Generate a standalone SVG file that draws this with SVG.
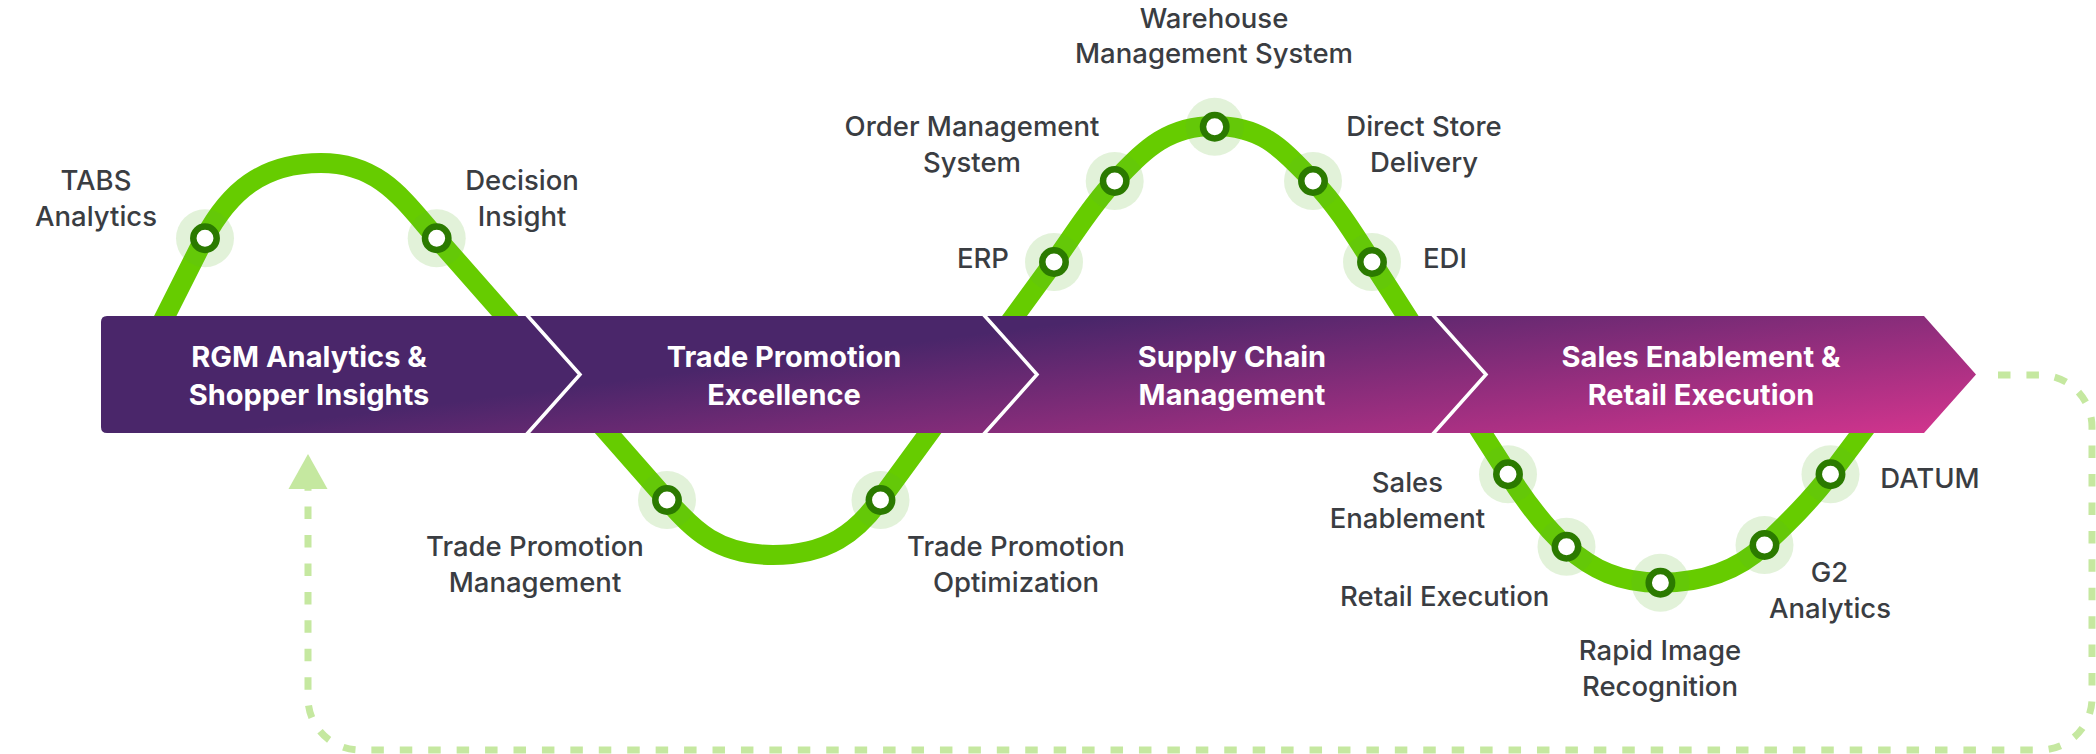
<svg xmlns="http://www.w3.org/2000/svg" width="2096" height="754" viewBox="0 0 2096 754">
<defs>
<linearGradient id="bannerGrad" gradientUnits="userSpaceOnUse" x1="1118" y1="316" x2="1147.7" y2="546.4">
<stop offset="0" stop-color="#4a266a"/>
<stop offset="1" stop-color="#d8358f"/>
</linearGradient>
<style>
.wave{fill:none;stroke:#66cc00;stroke-width:20;stroke-linejoin:round}
.halo{fill:#5cb82e;fill-opacity:0.18}
.ring{fill:#ffffff;stroke:#2b7a00;stroke-width:6.5}
.lbl{font-family:Inter,"Noto Sans","Liberation Sans",sans-serif;font-size:27.5px;font-weight:500;fill:#3a3d42;text-anchor:middle}
.stage{fill:url(#bannerGrad)}
.div{fill:none;stroke:#ffffff;stroke-width:3.5}
.stxt{font-family:Inter,"Noto Sans","Liberation Sans",sans-serif;font-size:29px;font-weight:700;fill:#ffffff;text-anchor:middle}
.loop{fill:none;stroke:#c5e8a0;stroke-width:7;stroke-dasharray:12.5 15.93}
</style>
</defs>
<rect width="2096" height="754" fill="#ffffff"/>
<g id="connectors">
<path id="wave" class="wave" d="M128,390 L204.5,238 C229,192 262,163 321,163 C380,163 403.6,200.4 436.6,238 L667,500 C693.4,530 718,555 773,555 C828,555 856.4,532.3 880,500 L1054,262 C1073.5,235.4 1091.6,204.6 1114.7,181 C1142.7,152.4 1164.7,126 1214.7,126 C1264.7,126 1285,152.4 1313,181 C1336.1,204.6 1354.2,234.2 1372,262 L1508,474 C1524.8,500.2 1543.3,526.2 1566.5,546.7 C1592.8,569.8 1620,582.7 1660,582.7 C1700,582.7 1737.1,571.2 1764.5,545 C1787.5,522.9 1811.3,499.9 1830.5,474.3 L1890,395"/>
<path id="loop" class="loop" d="M1998,375 H2040 A52,52 0 0 1 2092,427 V698 A52,52 0 0 1 2040,750 H360 A52,52 0 0 1 308,698 V489"/>
<polygon id="loop-arrow" points="308,454 288.5,489 327.5,489" fill="#c5e8a0"/>
</g>
<g id="stage-rgm">
<path class="stage" d="M101,322 Q101,316 107,316 L526,316 L580,374.5 L526,433 L107,433 Q101,433 101,427 Z"/>
<text class="stxt" x="309" y="366.5">RGM Analytics &amp;</text>
<text class="stxt" x="309" y="404.5">Shopper Insights</text>
</g>
<g id="stage-trade">
<path class="stage" d="M526,316 L983,316 L1037,374.5 L983,433 L526,433 L580,374.5 Z"/>
<polyline class="div" points="526,314 580,374.5 526,435"/>
<text class="stxt" x="784" y="366.5">Trade Promotion</text>
<text class="stxt" x="784" y="404.5">Excellence</text>
</g>
<g id="stage-supply">
<path class="stage" d="M983,316 L1432,316 L1486,374.5 L1432,433 L983,433 L1037,374.5 Z"/>
<polyline class="div" points="983,314 1037,374.5 983,435"/>
<text class="stxt" x="1232" y="366.5">Supply Chain</text>
<text class="stxt" x="1232" y="404.5">Management</text>
</g>
<g id="stage-sales">
<path class="stage" d="M1432,316 L1924,316 L1976,374.5 L1924,433 L1432,433 L1486,374.5 Z"/>
<polyline class="div" points="1432,314 1486,374.5 1432,435"/>
<text class="stxt" x="1701" y="366.5">Sales Enablement &amp;</text>
<text class="stxt" x="1701" y="404.5">Retail Execution</text>
</g>
<g id="node-tabs">
<circle class="halo" cx="205" cy="238.3" r="29"/>
<circle class="ring" cx="205" cy="238.3" r="11.7"/>
<text class="lbl" x="96" y="190">TABS</text>
<text class="lbl" x="96" y="225.5">Analytics</text>
</g>
<g id="node-decision">
<circle class="halo" cx="436.7" cy="238.3" r="29"/>
<circle class="ring" cx="436.7" cy="238.3" r="11.7"/>
<text class="lbl" x="522" y="190">Decision</text>
<text class="lbl" x="522" y="225.5">Insight</text>
</g>
<g id="node-tpm">
<circle class="halo" cx="667" cy="500" r="29"/>
<circle class="ring" cx="667" cy="500" r="11.7"/>
<text class="lbl" x="535" y="556">Trade Promotion</text>
<text class="lbl" x="535" y="592">Management</text>
</g>
<g id="node-tpo">
<circle class="halo" cx="880.5" cy="500" r="29"/>
<circle class="ring" cx="880.5" cy="500" r="11.7"/>
<text class="lbl" x="1016" y="556">Trade Promotion</text>
<text class="lbl" x="1016" y="592">Optimization</text>
</g>
<g id="node-erp">
<circle class="halo" cx="1054" cy="262" r="29"/>
<circle class="ring" cx="1054" cy="262" r="11.7"/>
<text class="lbl" x="983" y="267.7">ERP</text>
</g>
<g id="node-oms">
<circle class="halo" cx="1114.7" cy="181" r="29"/>
<circle class="ring" cx="1114.7" cy="181" r="11.7"/>
<text class="lbl" x="972" y="136">Order Management</text>
<text class="lbl" x="972" y="171.7">System</text>
</g>
<g id="node-wms">
<circle class="halo" cx="1214.7" cy="126.7" r="29"/>
<circle class="ring" cx="1214.7" cy="126.7" r="11.7"/>
<text class="lbl" x="1214" y="27.7">Warehouse</text>
<text class="lbl" x="1214" y="63.3">Management System</text>
</g>
<g id="node-dsd">
<circle class="halo" cx="1313" cy="181" r="29"/>
<circle class="ring" cx="1313" cy="181" r="11.7"/>
<text class="lbl" x="1424" y="136">Direct Store</text>
<text class="lbl" x="1424" y="171.7">Delivery</text>
</g>
<g id="node-edi">
<circle class="halo" cx="1372" cy="262" r="29"/>
<circle class="ring" cx="1372" cy="262" r="11.7"/>
<text class="lbl" x="1445" y="267.7">EDI</text>
</g>
<g id="node-se">
<circle class="halo" cx="1508" cy="474.3" r="29"/>
<circle class="ring" cx="1508" cy="474.3" r="11.7"/>
<text class="lbl" x="1407.4" y="491.7">Sales</text>
<text class="lbl" x="1407.4" y="527.7">Enablement</text>
</g>
<g id="node-re">
<circle class="halo" cx="1566.5" cy="546.7" r="29"/>
<circle class="ring" cx="1566.5" cy="546.7" r="11.7"/>
<text class="lbl" x="1444.7" y="605.7">Retail Execution</text>
</g>
<g id="node-rir">
<circle class="halo" cx="1660.4" cy="582.7" r="29"/>
<circle class="ring" cx="1660.4" cy="582.7" r="11.7"/>
<text class="lbl" x="1660" y="660">Rapid Image</text>
<text class="lbl" x="1660" y="695.7">Recognition</text>
</g>
<g id="node-g2">
<circle class="halo" cx="1764.5" cy="545" r="29"/>
<circle class="ring" cx="1764.5" cy="545" r="11.7"/>
<text class="lbl" x="1829.5" y="581.7">G2</text>
<text class="lbl" x="1830" y="617.7">Analytics</text>
</g>
<g id="node-datum">
<circle class="halo" cx="1830.5" cy="474.3" r="29"/>
<circle class="ring" cx="1830.5" cy="474.3" r="11.7"/>
<text class="lbl" x="1930" y="487.7">DATUM</text>
</g>
</svg>
